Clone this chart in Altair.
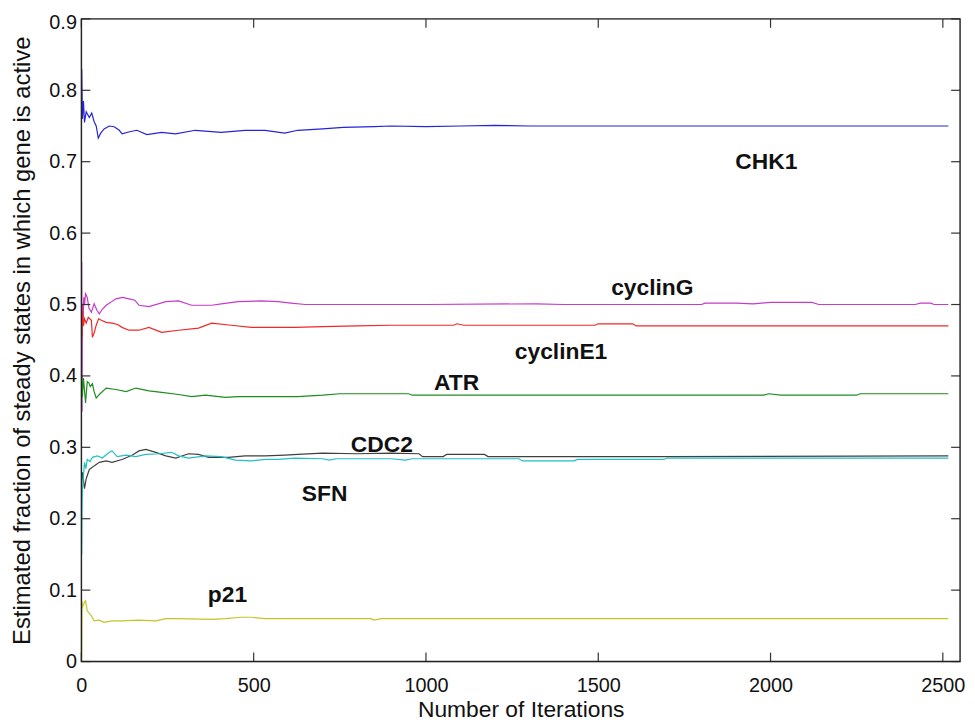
import altair as alt
import pandas as pd

genes = ["CHK1", "cyclinG", "cyclinE1", "ATR", "CDC2", "SFN", "p21"]
colors = ["#2424d8", "#c43cc8", "#f02828", "#1e8c1e", "#404040", "#20c0c4", "#c4c428"]

chk1_it = [1, 3, 6, 9, 14, 23, 30, 37, 43, 49, 56, 66, 81, 95, 110, 118, 140, 161, 190, 233, 273, 331, 406, 475, 533, 590, 628, 700, 760, 850, 900, 1000, 1100, 1200, 1300, 1600, 2000, 2516]
chk1_v = [0.83, 0.76, 0.785, 0.755, 0.77, 0.762, 0.768, 0.756, 0.75, 0.733, 0.74, 0.746, 0.75, 0.749, 0.744, 0.739, 0.742, 0.744, 0.738, 0.741, 0.739, 0.744, 0.741, 0.744, 0.744, 0.740, 0.744, 0.746, 0.748, 0.749, 0.750, 0.749, 0.750, 0.751, 0.750, 0.750, 0.750, 0.750]

cycg_it = [1, 2, 3, 5, 7, 9, 12, 17, 22, 29, 37, 45, 52, 60, 72, 85, 100, 120, 138, 155, 167, 196, 245, 282, 320, 378, 406, 455, 522, 571, 608, 650, 900, 1000, 1320, 1400, 1800, 1810, 1900, 1950, 2000, 2120, 2140, 2420, 2435, 2465, 2475, 2516]
cycg_v = [0.56, 0.35, 0.5, 0.48, 0.51, 0.499, 0.515, 0.51, 0.495, 0.489, 0.501, 0.492, 0.487, 0.493, 0.499, 0.503, 0.508, 0.510, 0.508, 0.506, 0.499, 0.497, 0.504, 0.505, 0.499, 0.499, 0.501, 0.504, 0.505, 0.504, 0.502, 0.500, 0.500, 0.500, 0.501, 0.500, 0.500, 0.502, 0.502, 0.501, 0.503, 0.503, 0.500, 0.500, 0.502, 0.502, 0.500, 0.500]

cyce_it = [1, 2, 4, 6, 9, 14, 20, 29, 32, 37, 43, 50, 58, 72, 89, 105, 118, 138, 167, 196, 233, 282, 340, 378, 435, 493, 550, 620, 700, 800, 900, 1080, 1090, 1110, 1490, 1500, 1600, 1610, 2516]
cyce_v = [0.5, 0.455, 0.49, 0.47, 0.48, 0.474, 0.482, 0.478, 0.454, 0.46, 0.471, 0.48, 0.478, 0.475, 0.474, 0.472, 0.468, 0.464, 0.464, 0.468, 0.461, 0.464, 0.467, 0.474, 0.471, 0.468, 0.468, 0.468, 0.469, 0.470, 0.471, 0.471, 0.473, 0.471, 0.471, 0.473, 0.473, 0.470, 0.470]

atr_it = [1, 3, 6, 9, 12, 17, 22, 26, 32, 37, 43, 52, 72, 100, 130, 158, 196, 233, 282, 320, 360, 418, 455, 550, 628, 700, 750, 950, 960, 1980, 1995, 2030, 2250, 2260, 2516]
atr_v = [0.40, 0.37, 0.397, 0.38, 0.362, 0.392, 0.39, 0.385, 0.389, 0.378, 0.369, 0.374, 0.383, 0.381, 0.378, 0.383, 0.379, 0.377, 0.374, 0.371, 0.373, 0.370, 0.371, 0.371, 0.371, 0.373, 0.375, 0.375, 0.373, 0.373, 0.375, 0.373, 0.373, 0.375, 0.375]

cdc2_it = [1, 3, 6, 9, 14, 23, 37, 52, 72, 89, 118, 147, 167, 187, 216, 245, 274, 311, 340, 369, 427, 475, 533, 591, 628, 700, 800, 900, 980, 990, 1050, 1060, 1170, 1180, 1700, 2516]
cdc2_v = [0.25, 0.265, 0.255, 0.242, 0.256, 0.269, 0.274, 0.279, 0.281, 0.279, 0.283, 0.289, 0.295, 0.297, 0.293, 0.288, 0.285, 0.291, 0.290, 0.286, 0.286, 0.288, 0.288, 0.289, 0.290, 0.292, 0.291, 0.292, 0.291, 0.287, 0.287, 0.290, 0.290, 0.287, 0.287, 0.288]

sfn_it = [1, 2, 3, 6, 9, 13, 17, 25, 32, 46, 61, 81, 89, 104, 130, 158, 187, 225, 262, 282, 311, 360, 406, 447, 493, 533, 571, 620, 700, 720, 740, 900, 940, 960, 1270, 1280, 1430, 1440, 1690, 1700, 2516]
sfn_v = [0.15, 0.214, 0.242, 0.26, 0.279, 0.27, 0.283, 0.28, 0.286, 0.288, 0.285, 0.293, 0.295, 0.287, 0.289, 0.287, 0.290, 0.291, 0.293, 0.288, 0.285, 0.288, 0.287, 0.282, 0.281, 0.283, 0.283, 0.285, 0.284, 0.282, 0.284, 0.284, 0.282, 0.284, 0.284, 0.281, 0.281, 0.283, 0.283, 0.285, 0.285]

p21_it = [1, 2, 3, 6, 12, 17, 29, 37, 52, 66, 89, 118, 167, 216, 245, 282, 378, 418, 464, 493, 533, 620, 840, 850, 870, 2516]
p21_v = [0.0, 0.085, 0.075, 0.08, 0.085, 0.071, 0.064, 0.057, 0.058, 0.055, 0.057, 0.057, 0.058, 0.057, 0.060, 0.060, 0.059, 0.060, 0.062, 0.062, 0.060, 0.060, 0.060, 0.058, 0.060, 0.060]

label_text = ["CHK1", "cyclinG", "cyclinE1", "ATR", "CDC2", "SFN", "p21"]
label_x = [1988, 1657, 1392, 1089, 872, 706, 424]
label_y = [0.690, 0.513, 0.424, 0.380, 0.294, 0.225, 0.083]

x_ticks = [0, 500, 1000, 1500, 2000, 2500]
y_ticks = [0, 0.1, 0.2, 0.3, 0.4, 0.5, 0.6, 0.7, 0.8, 0.9]

series = [(chk1_it, chk1_v), (cycg_it, cycg_v), (cyce_it, cyce_v), (atr_it, atr_v),
          (cdc2_it, cdc2_v), (sfn_it, sfn_v), (p21_it, p21_v)]
rows = []
for g, (its, vs) in zip(genes, series):
    for i, v in zip(its, vs):
        rows.append({"gene": g, "iter": i, "value": v})
df = pd.DataFrame(rows)

W, H = 886, 648
FONT = "Liberation Sans"
TL = 9

xscale = alt.Scale(domain=[0, 2550], nice=False, zero=False)
yscale = alt.Scale(domain=[0, 0.9], nice=False, zero=False)

lines = alt.Chart(df).mark_line(strokeWidth=1.2, clip=True).encode(
    x=alt.X("iter:Q", scale=xscale, axis=alt.Axis(
        values=x_ticks, format="d", title="Number of Iterations", grid=False, domain=False, ticks=False,
        labelFlush=False,
        labelFont=FONT, labelFontSize=20, labelColor="#111", labelPadding=14,
        titleFont=FONT, titleFontSize=23, titleFontWeight="normal", titleColor="#111",
        titleY=55, titleBaseline="alphabetic")),
    y=alt.Y("value:Q", scale=yscale, axis=alt.Axis(
        values=y_ticks, title="Estimated fraction of steady states in which gene is active",
        grid=False, domain=False, ticks=False, labelFlush=False,
        labelExpr="datum.value == 0 ? '0' : format(datum.value, '.1f')",
        labelOffset={"condition": {"test": "datum.value > 0.85", "value": 4}, "value": 0},
        labelFont=FONT, labelFontSize=20, labelColor="#111", labelPadding=5,
        titleFont=FONT, titleFontSize=24, titleFontWeight="normal", titleColor="#111",
        titleX=-52, titleY=324, titleBaseline="alphabetic")),
    color=alt.Color("gene:N", scale=alt.Scale(domain=genes, range=colors), legend=None),
    detail="gene:N",
)

ldf = pd.DataFrame({"text": label_text, "x": label_x, "y": label_y})
labels = alt.Chart(ldf).mark_text(font=FONT, fontSize=23, fontWeight="bold", color="#111",
                                  align="center", baseline="alphabetic").encode(
    x=alt.X("x:Q", scale=xscale), y=alt.Y("y:Q", scale=yscale), text="text:N")

xt = pd.DataFrame({"t": x_ticks})
yt = pd.DataFrame({"t": y_ticks})
tick_style = dict(color="#333", strokeWidth=1.2)
bottom_ticks = alt.Chart(xt).mark_rule(**tick_style).encode(
    x=alt.X("t:Q", scale=xscale), y=alt.value(H - TL), y2=alt.value(H))
top_ticks = alt.Chart(xt).mark_rule(**tick_style).encode(
    x=alt.X("t:Q", scale=xscale), y=alt.value(0), y2=alt.value(TL))
left_ticks = alt.Chart(yt).mark_rule(**tick_style).encode(
    y=alt.Y("t:Q", scale=yscale), x=alt.value(0), x2=alt.value(TL))
right_ticks = alt.Chart(yt).mark_rule(**tick_style).encode(
    y=alt.Y("t:Q", scale=yscale), x=alt.value(W - TL), x2=alt.value(W))

frame = alt.Chart(pd.DataFrame({"k": [0]})).mark_rect(
    filled=False, stroke="#222", strokeWidth=1.4).encode(
    x=alt.value(0), x2=alt.value(W), y=alt.value(0), y2=alt.value(H))

chart = alt.layer(lines, labels, bottom_ticks, top_ticks, left_ticks, right_ticks, frame).properties(
    width=W, height=H,
    autosize=alt.AutoSizeParams(type="none"),
    padding={"left": 74, "top": 8, "right": 7, "bottom": 60},
).configure_view(stroke=None).configure(background="white")

chart.save("out.html", embed_options={"renderer": "svg", "actions": False})
